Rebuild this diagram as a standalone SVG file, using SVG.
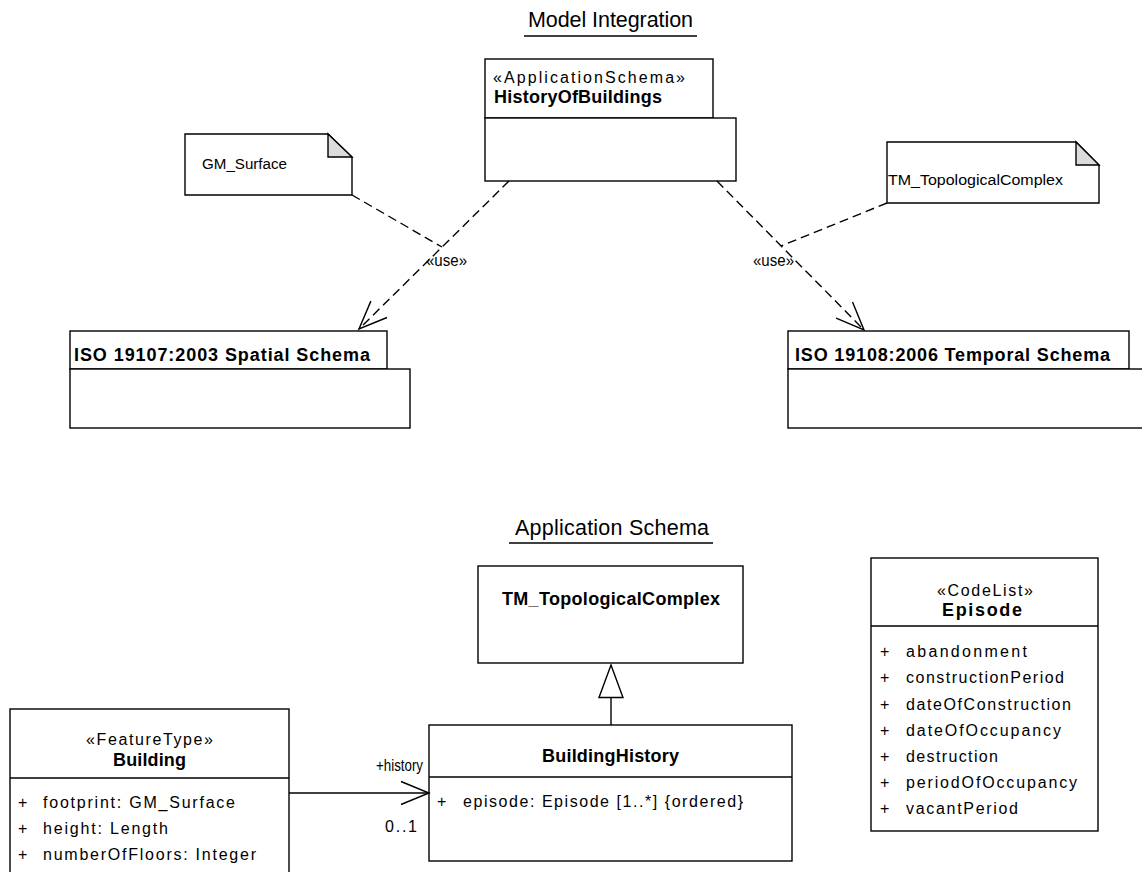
<svg xmlns="http://www.w3.org/2000/svg" width="1142" height="872" viewBox="0 0 1142 872">
<style>
  .box { fill: #fff; stroke: #000; stroke-width: 1.4; }
  .fold { fill: #dcdcdc; stroke: #000; stroke-width: 1.4; stroke-linejoin: miter; }
  .ln { fill: none; stroke: #000; stroke-width: 1.4; }
  .dash { fill: none; stroke: #000; stroke-width: 1.4; stroke-dasharray: 9 5; }
  text { font-family: "Liberation Sans", Arial, sans-serif; fill: #000; }
  .title { font-size: 21.5px; }
  .bold { font-size: 18px; font-weight: bold; }
  .reg { font-size: 16px; }
  .note { font-size: 15.5px; }
</style>
<defs>
  <marker id="open" markerUnits="userSpaceOnUse" viewBox="-32 -16 34 32" markerWidth="34" markerHeight="32" refX="0" refY="0" orient="auto" overflow="visible">
    <path d="M -28,-11.5 L 0,0 L -28,11.5" fill="none" stroke="#000" stroke-width="1.4" stroke-dasharray="none"/>
  </marker>
  <marker id="gen" markerUnits="userSpaceOnUse" viewBox="-34 -14 36 28" markerWidth="36" markerHeight="28" refX="0" refY="0" orient="auto" overflow="visible">
    <path d="M -32.5,-12 L 0,0 L -32.5,12 Z" fill="#fff" stroke="#000" stroke-width="1.4"/>
  </marker>
</defs>

<g id="title-model-integration">
  <text class="title" x="528" y="27" textLength="165" lengthAdjust="spacing">Model Integration</text>
  <line class="ln" x1="524" y1="36" x2="697" y2="36"/>
</g>

<g id="pkg-HistoryOfBuildings">
  <rect class="box" x="485" y="59" width="228" height="59"/>
  <rect class="box" x="485" y="118" width="251" height="63"/>
  <text class="reg" x="493" y="83" textLength="192" lengthAdjust="spacing">«ApplicationSchema»</text>
  <text class="bold" x="494" y="103" textLength="168" lengthAdjust="spacing">HistoryOfBuildings</text>
</g>

<g id="note-GM_Surface">
  <path class="box" d="M185,134 L328,134 L352,157 L352,195 L185,195 Z"/>
  <path class="fold" d="M328,134 L328,157 L352,157 Z"/>
  <text class="note" x="202" y="169" textLength="85" lengthAdjust="spacingAndGlyphs">GM_Surface</text>
</g>

<g id="note-TM_TopologicalComplex">
  <path class="box" d="M887,142 L1076,142 L1099,165 L1099,203 L887,203 Z"/>
  <path class="fold" d="M1076,142 L1076,165 L1099,165 Z"/>
  <text class="note" x="888" y="185" textLength="175" lengthAdjust="spacingAndGlyphs">TM_TopologicalComplex</text>
</g>

<g id="pkg-ISO19107">
  <rect class="box" x="70" y="331" width="317" height="38"/>
  <rect class="box" x="70" y="369" width="340" height="59"/>
  <text class="bold" x="74" y="361" textLength="296" lengthAdjust="spacing">ISO 19107:2003 Spatial Schema</text>
</g>

<g id="pkg-ISO19108">
  <rect class="box" x="788" y="331" width="341" height="38"/>
  <rect class="box" x="788" y="369" width="370" height="59"/>
  <text class="bold" x="795" y="361" textLength="315" lengthAdjust="spacing">ISO 19108:2006 Temporal Schema</text>
</g>

<g id="title-application-schema">
  <text class="title" x="515" y="535" textLength="194" lengthAdjust="spacing">Application Schema</text>
  <line class="ln" x1="509" y1="543" x2="713" y2="543"/>
</g>

<g id="class-TM_TopologicalComplex">
  <rect class="box" x="478" y="566" width="265" height="97"/>
  <text class="bold" x="502" y="605" textLength="218" lengthAdjust="spacing">TM_TopologicalComplex</text>
</g>

<g id="class-Episode">
  <rect class="box" x="871" y="558" width="227" height="273"/>
  <line class="ln" x1="871" y1="626" x2="1098" y2="626"/>
  <text class="reg" x="937" y="596" textLength="96" lengthAdjust="spacing">«CodeList»</text>
  <text class="bold" x="942" y="616" textLength="80" lengthAdjust="spacing">Episode</text>
  <text class="reg" x="880" y="657">+</text>
  <text class="reg" x="906" y="657" textLength="121" lengthAdjust="spacing">abandonment</text>
  <text class="reg" x="880" y="683">+</text>
  <text class="reg" x="906" y="683" textLength="158" lengthAdjust="spacing">constructionPeriod</text>
  <text class="reg" x="880" y="710">+</text>
  <text class="reg" x="906" y="710" textLength="165" lengthAdjust="spacing">dateOfConstruction</text>
  <text class="reg" x="880" y="736">+</text>
  <text class="reg" x="906" y="736" textLength="155" lengthAdjust="spacing">dateOfOccupancy</text>
  <text class="reg" x="880" y="762">+</text>
  <text class="reg" x="906" y="762" textLength="92" lengthAdjust="spacing">destruction</text>
  <text class="reg" x="880" y="788">+</text>
  <text class="reg" x="906" y="788" textLength="171" lengthAdjust="spacing">periodOfOccupancy</text>
  <text class="reg" x="880" y="814">+</text>
  <text class="reg" x="906" y="814" textLength="112" lengthAdjust="spacing">vacantPeriod</text>
</g>

<g id="class-Building">
  <rect class="box" x="10" y="709" width="279" height="180"/>
  <line class="ln" x1="10" y1="778" x2="289" y2="778"/>
  <text class="reg" x="86" y="745" textLength="127" lengthAdjust="spacing">«FeatureType»</text>
  <text class="bold" x="113" y="766" textLength="73" lengthAdjust="spacing">Building</text>
  <text class="reg" x="18" y="808">+</text>
  <text class="reg" x="43" y="808" textLength="192" lengthAdjust="spacing">footprint: GM_Surface</text>
  <text class="reg" x="18" y="834">+</text>
  <text class="reg" x="43" y="834" textLength="125" lengthAdjust="spacing">height: Length</text>
  <text class="reg" x="18" y="860">+</text>
  <text class="reg" x="43" y="860" textLength="213" lengthAdjust="spacing">numberOfFloors: Integer</text>
</g>

<g id="class-BuildingHistory">
  <rect class="box" x="429" y="725" width="363" height="136"/>
  <line class="ln" x1="429" y1="777" x2="792" y2="777"/>
  <text class="bold" x="542" y="762" textLength="137" lengthAdjust="spacing">BuildingHistory</text>
  <text class="reg" x="437" y="807">+</text>
  <text class="reg" x="463" y="807" textLength="280" lengthAdjust="spacing">episode: Episode [1..*] {ordered}</text>
</g>

<g id="connectors">
  <path class="dash" d="M509,181 L359,329" marker-end="url(#open)"/>
  <path class="dash" d="M717,181 L864,330" marker-end="url(#open)"/>
  <path class="dash" d="M352,195 L442,247"/>
  <path class="dash" d="M887,203 L781,246"/>
  <text class="reg" x="426" y="266" textLength="41" lengthAdjust="spacingAndGlyphs">«use»</text>
  <text class="reg" x="753" y="266" textLength="41" lengthAdjust="spacingAndGlyphs">«use»</text>
  <path class="ln" d="M289,793 L429,793" marker-end="url(#open)"/>
  <text class="reg" x="376" y="771" textLength="47" lengthAdjust="spacingAndGlyphs">+history</text>
  <text class="reg" x="385" y="832" textLength="32" lengthAdjust="spacing">0..1</text>
  <path class="ln" d="M611,725 L611,665" marker-end="url(#gen)"/>
</g>
</svg>
